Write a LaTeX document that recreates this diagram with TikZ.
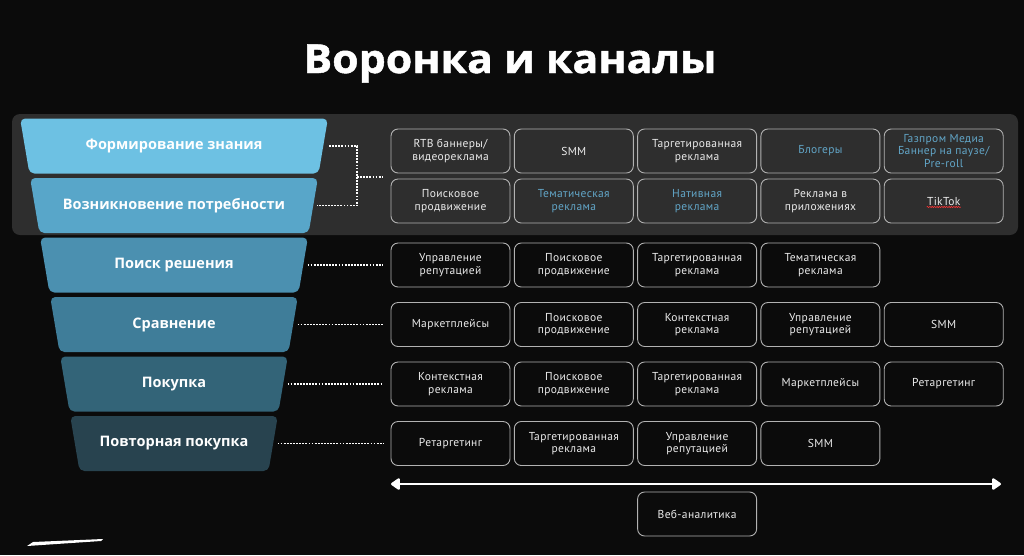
\documentclass[tikz,border=0pt]{standalone}
\usepackage{fontspec}
\setmainfont{Open Sans}
\newfontfamily\titlefont{Open Sans}[FakeStretch=1.07,FakeBold=1.2]
\newfontfamily\chanfont{PT Sans}[LetterSpace=3]
\usepackage{tikz}
\usetikzlibrary{arrows.meta,positioning,decorations.pathmorphing}
\definecolor{bgblack}{RGB}{11,11,11}
\definecolor{panelgray}{RGB}{46,46,46}
\definecolor{boxgray}{RGB}{178,178,178}
\definecolor{chanwhite}{RGB}{236,236,236}
\definecolor{chanblue}{RGB}{98,166,200}
\definecolor{stA}{RGB}{109,193,227}
\definecolor{stB}{RGB}{88,166,201}
\definecolor{stC}{RGB}{75,144,176}
\definecolor{stD}{RGB}{63,125,153}
\definecolor{stE}{RGB}{51,100,120}
\definecolor{stF}{RGB}{40,67,79}

\begin{document}
\begin{tikzpicture}[x=1pt,y=-1pt,node distance=4.3pt,
  band/.style={rounded corners=5pt},
  stage/.style={inner sep=0pt,text=white,font=\bfseries\fontsize{14.5}{16}\selectfont},
  chan/.style={draw=boxgray,line width=0.9pt,rounded corners=7pt,minimum width=119pt,minimum height=44pt,
    inner sep=1pt,outer sep=0pt,align=center,text=chanwhite,font=\chanfont\fontsize{11.5}{12.7}\selectfont},
  hl/.style={text=chanblue},
  dots/.style={white,line width=1.8pt,dash pattern=on 1.8pt off 1.3pt},
  axis/.style={{Triangle[length=10pt,width=13pt,round]}-{Triangle[length=10pt,width=13pt,round]},white,line width=2.5pt}]
\useasboundingbox (0,0) rectangle (1024,555);
\fill[bgblack] (0,0) rectangle (1024,555);
\fill[panelgray,rounded corners=8pt] (12,114) rectangle (1018,235);
\node[anchor=base,text=white,font=\titlefont\bfseries\fontsize{40}{44}\selectfont] (ttl) at (510,73) {Воронка и каналы};
% funnel
\fill[band,stA] (20.1,118.5) -- (327.9,118.5) -- (318.6,173.5) -- (29.4,173.5) -- cycle;
\fill[band,stB] (30.1,178) -- (317.9,178) -- (308.6,233) -- (39.4,233) -- cycle;
\fill[band,stC] (40.1,237.5) -- (307.9,237.5) -- (298.6,292.5) -- (49.4,292.5) -- cycle;
\fill[band,stD] (50.2,297) -- (297.8,297) -- (288.5,352) -- (59.5,352) -- cycle;
\fill[band,stE] (60.2,356.5) -- (287.8,356.5) -- (278.5,411.5) -- (69.5,411.5) -- cycle;
\fill[band,stF] (70.2,416) -- (277.8,416) -- (268.5,471) -- (79.5,471) -- cycle;
\node[stage] (s1) at (174,146) {Формирование знания};
\node[stage] (s2) at (174,205.5) {Возникновение потребности};
\node[stage] (s3) at (174,265) {Поиск решения};
\node[stage] (s4) at (174,324.5) {Сравнение};
\node[stage] (s5) at (174,384) {Покупка};
\node[stage] (s6) at (174,443.5) {Повторная покупка};
\coordinate (e1) at (329,146);
\coordinate (e2) at (317,205.5);
\coordinate (e3) at (307.5,265);
\coordinate (e4) at (297.5,324.5);
\coordinate (e5) at (287.5,384);
\coordinate (e6) at (277.5,443.5);
% channels
\node[chan] (c11) at (450.5,151) {RTB баннеры/\\видеореклама};
\node[chan,right=of c11] (c12) {SMM};
\node[chan,right=of c12] (c13) {Таргетированная\\реклама};
\node[chan,hl,right=of c13] (c14) {Блогеры};
\node[chan,hl,right=of c14] (c15) {Газпром Медиа\\Баннер на паузе/\\Pre-roll};
\node[chan] (c21) at (450.5,201) {Поисковое\\продвижение};
\node[chan,hl,right=of c21] (c22) {Тематическая\\реклама};
\node[chan,hl,right=of c22] (c23) {Нативная\\реклама};
\node[chan,right=of c23] (c24) {Реклама в\\приложениях};
\node[chan,right=of c24] (c25) {TikTok};
\node[chan] (c31) at (450.5,265) {Управление\\репутацией};
\node[chan,right=of c31] (c32) {Поисковое\\продвижение};
\node[chan,right=of c32] (c33) {Таргетированная\\реклама};
\node[chan,right=of c33] (c34) {Тематическая\\реклама};
\node[chan] (c41) at (450.5,324.5) {Маркетплейсы};
\node[chan,right=of c41] (c42) {Поисковое\\продвижение};
\node[chan,right=of c42] (c43) {Контекстная\\реклама};
\node[chan,right=of c43] (c44) {Управление\\репутацией};
\node[chan,right=of c44] (c45) {SMM};
\node[chan] (c51) at (450.5,384) {Контекстная\\реклама};
\node[chan,right=of c51] (c52) {Поисковое\\продвижение};
\node[chan,right=of c52] (c53) {Таргетированная\\реклама};
\node[chan,right=of c53] (c54) {Маркетплейсы};
\node[chan,right=of c54] (c55) {Ретаргетинг};
\node[chan] (c61) at (450.5,443.5) {Ретаргетинг};
\node[chan,right=of c61] (c62) {Таргетированная\\реклама};
\node[chan,right=of c62] (c63) {Управление\\репутацией};
\node[chan,right=of c63] (c64) {SMM};
\node[chan,below=26.5pt of c63] (web) {Веб-аналитика};
\draw[red!80,line width=0.6pt,decorate,decoration={snake,amplitude=0.6pt,segment length=2.4pt}]
  ([xshift=-17pt,yshift=-6pt]c25.center) -- ([xshift=17pt,yshift=-6pt]c25.center);
% connectors
\coordinate (bk) at (357,177);
\coordinate (bkend) at (383,177);
\draw[dots] (e1) -| (bk) |- (e2);
\draw[dots] (bk) -- (bkend);
\draw[dots] (e3) -- ([xshift=-8pt]c31.west);
\draw[dots] (e4) -- ([xshift=-8pt]c41.west);
\draw[dots] (e5) -- ([xshift=-8pt]c51.west);
\draw[dots] (e6) -- ([xshift=-8pt]c61.west);
\coordinate (axl) at (391,484);
\coordinate (axr) at (1001,484);
\draw[axis] (axl) -- (axr);
\fill[white] (27,546) -- (33,542) -- (103,539) -- (101,541) -- cycle;
\end{tikzpicture}
\end{document}
